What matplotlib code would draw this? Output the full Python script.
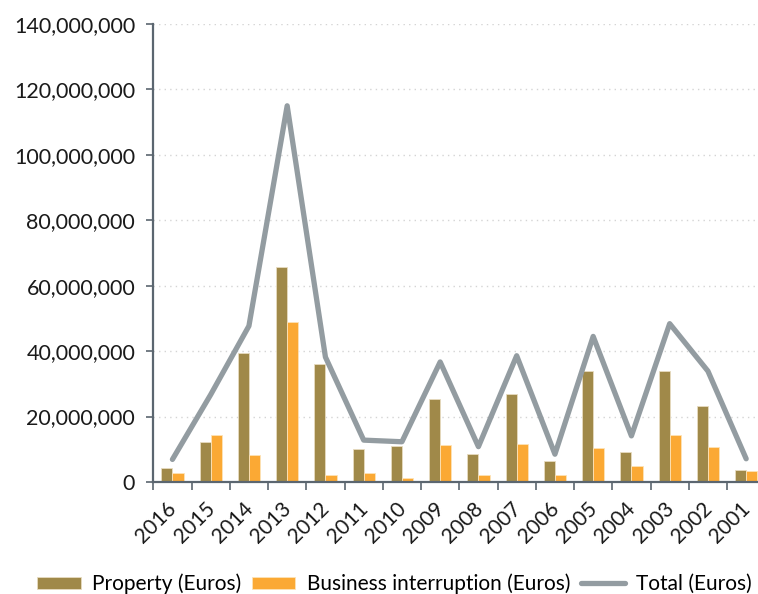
import numpy as np
import matplotlib.pyplot as plt
from matplotlib.ticker import FuncFormatter
from matplotlib.transforms import ScaledTranslation

plt.rcParams['font.family'] = ['Lato', 'DejaVu Sans']

years = ['2016', '2015', '2014', '2013', '2012', '2011', '2010', '2009',
         '2008', '2007', '2006', '2005', '2004', '2003', '2002', '2001']
# values in millions of euros
property_m = [4.2, 12.3, 39.5, 65.8, 36.1, 10.0, 11.0, 25.4,
              8.65, 26.9, 6.4, 34.0, 9.2, 34.0, 23.1, 3.7]
business_m = [2.75, 14.4, 8.25, 49.0, 2.1, 2.75, 1.3, 11.3,
              2.1, 11.7, 2.1, 10.5, 4.9, 14.4, 10.8, 3.45]
total_m = [6.9, 26.7, 47.7, 115.0, 38.2, 12.8, 12.3, 36.7,
           10.8, 38.6, 8.5, 44.5, 14.1, 48.4, 33.9, 7.1]

prop = np.array(property_m) * 1e6
bi = np.array(business_m) * 1e6
tot = np.array(total_m) * 1e6

PROP_C = '#a08949'
BI_C = '#fba934'
TOT_C = '#939ca1'
AX_C = '#5b6670'
FS = 15

fig = plt.figure(figsize=(7.58, 5.94), dpi=100)
ax = fig.add_axes([153.3 / 758, 1 - 482 / 594, 612 / 758, 458 / 594])

x = np.arange(len(years))
w = 0.29
b1 = ax.bar(x - w / 2, prop, w, color=PROP_C, edgecolor='#e8dcc0', lw=0.6,
            label='Property (Euros)', zorder=2)
b2 = ax.bar(x + w / 2, bi, w, color=BI_C, edgecolor='#fde3b8', lw=0.6,
            label='Business interruption (Euros)', zorder=2)
l1, = ax.plot(x, tot, color=TOT_C, lw=3.8, solid_capstyle='round',
              label='Total (Euros)', zorder=3)

ax.set_xlim(-0.5, len(years) - 0.5)
ax.set_ylim(0, 140e6)
ax.set_yticks(np.arange(0, 140e6 + 1, 20e6))
ax.yaxis.set_major_formatter(FuncFormatter(lambda v, p: f'{int(v):,}'))
ax.grid(axis='y', color='#d4d4d4', linestyle=(0, (1, 3)), lw=1.0, zorder=0)

ax.set_xticks(x)
ax.set_xticklabels(years, rotation=45, ha='right', rotation_mode='anchor')
ax.set_xticks(np.arange(-0.5, len(years)), minor=True)
ax.tick_params(axis='x', which='major', length=0, pad=12, labelsize=FS,
               labelcolor='#1a1a1a')
ax.tick_params(axis='x', which='minor', length=6, width=1.2, color=AX_C)
ax.tick_params(axis='y', length=5, width=1.2, color=AX_C, labelsize=15.5,
               labelcolor='#1a1a1a', pad=8)
shift = ScaledTranslation(-6 / 100, 0, fig.dpi_scale_trans)
for lab in ax.get_xticklabels():
    lab.set_transform(lab.get_transform() + shift)

for s in ['top', 'right']:
    ax.spines[s].set_visible(False)
for s in ['left', 'bottom']:
    ax.spines[s].set_color(AX_C)
    ax.spines[s].set_linewidth(1.6)

fig.legend([b1, b2, l1], ['Property (Euros)', 'Business interruption (Euros)', 'Total (Euros)'],
           loc='center left', bbox_to_anchor=(18 / 758, 1 - 584 / 594),
           ncol=3, frameon=False, fontsize=FS, handlelength=2.1,
           handleheight=0.55, columnspacing=0.5, handletextpad=0.55)

fig.savefig('out.png', dpi=100)
